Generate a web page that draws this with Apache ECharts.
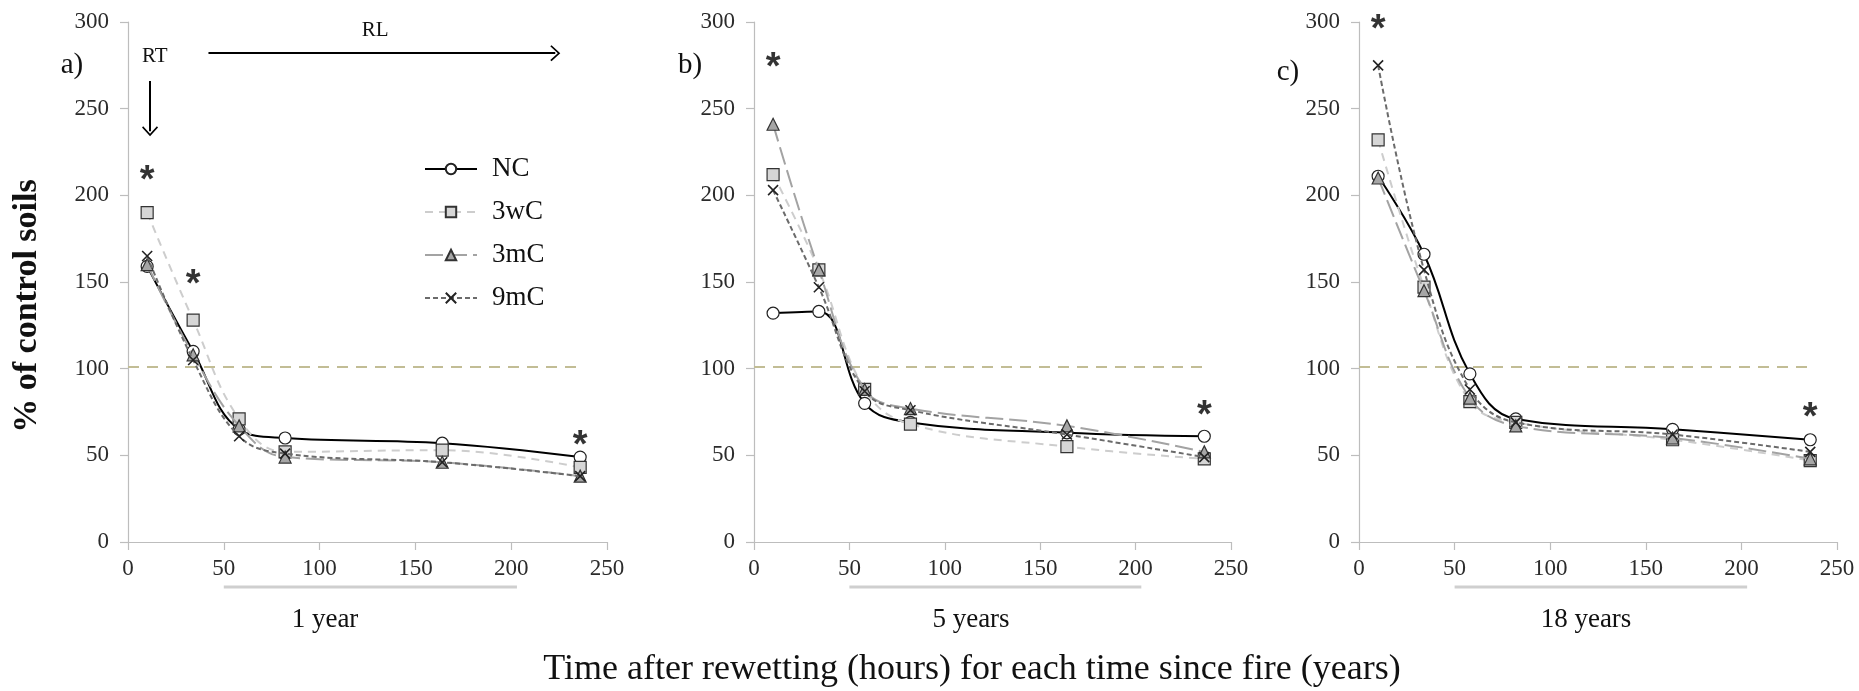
<!DOCTYPE html>
<html>
<head>
<meta charset="utf-8">
<script src="https://cdn.jsdelivr.net/npm/echarts@6/dist/echarts.min.js"></script>
<style>
  html, body { margin: 0; padding: 0; background: #fff; }
  #main { width: 1859px; height: 691px; }
</style>
</head>
<body>
<div id="main"></div>
<script>
// hours after rewetting (same sampling for every panel)
const hours = [10, 34, 58, 82, 164, 236];

// a) 1 year since fire
const ncA  = [159, 110, 65, 60, 57, 49];
const w3A  = [190, 128, 71, 52, 53, 43];
const m3A  = [160, 108, 67, 49, 46, 38];
const m9A  = [165, 105, 61, 51, 46, 38];
// b) 5 years since fire
const ncB  = [132, 133, 80, 69, 63, 61];
const w3B  = [212, 157, 88, 68, 55, 48];
const m3B  = [241, 157, 88, 77, 67, 52];
const m9B  = [203, 147, 87, 76, 62, 49];
// c) 18 years since fire
const ncC  = [211, 166, 97, 71, 65, 59];
const w3C  = [232, 147, 81, 69, 59, 47];
const m3C  = [210, 145, 83, 67, 60, 48];
const m9C  = [275, 157, 88, 69, 62, 52];

// significance asterisks [hour, height]
const starsA = [[10, 214], [34, 154], [236, 61]];
const starsB = [[10, 279], [236, 78]];
const starsC = [[10, 301], [236, 77]];

// 100 % of control reference
const refY = 101;
const refX = [0, 235];

const xTicks = [0, 250, 50];   // min, max, step
const yTicks = [0, 300, 50];
const seriesNames = ['NC', '3wC', '3mC', '9mC'];
const panelLetters = ['a)', 'b)', 'c)'];
const yearLabels = ['1 year', '5 years', '18 years'];
const lagSpan = [50, 203];     // grey bar under x axis

const serif = 'Liberation Serif';
const chart = echarts.init(document.getElementById('main'));

const grids = [
  { left: 128, top: 22, width: 479, height: 520 },
  { left: 754, top: 22, width: 477, height: 520 },
  { left: 1359, top: 22, width: 478, height: 520 }
];

const styles = {
  'NC':  { symbol: 'circle', line: { color: '#000', width: 2, type: 'solid' },
           item: { color: '#fff', borderColor: '#222', borderWidth: 1.2 } },
  '3wC': { symbol: 'rect', line: { color: '#cdcdcd', width: 2, type: [8, 6] },
           item: { color: '#d6d6d6', borderColor: '#333', borderWidth: 1.2 } },
  '3mC': { symbol: 'triangle', line: { color: '#a3a3a3', width: 2, type: [18, 6] },
           item: { color: '#a6a6a6', borderColor: '#333', borderWidth: 1.2 } },
  '9mC': { symbol: 'path://M0,0L10,10M10,0L0,10', line: { color: '#6b6b6b', width: 2, type: [5, 3] },
           item: { color: 'transparent', borderColor: '#222', borderWidth: 1.6 } }
};

const panelData = [
  [ncA, w3A, m3A, m9A],
  [ncB, w3B, m3B, m9B],
  [ncC, w3C, m3C, m9C]
];
const panelStars = [starsA, starsB, starsC];

const chevron = 'path://M0,0L10,10L8.6,11.4L0,2.8L-8.6,11.4L-10,10Z';

let series = [];
panelData.forEach(function (sets, p) {
  sets.forEach(function (vals, k) {
    const name = seriesNames[k];
    const st = styles[name];
    const s = {
      type: 'line',
      name: name,
      xAxisIndex: p,
      yAxisIndex: p,
      data: hours.map(function (h, i) { return [h, vals[i]]; }),
      smooth: 0.4,
      symbol: st.symbol,
      symbolSize: name === '9mC' ? 10 : 12,
      showAllSymbol: true,
      lineStyle: st.line,
      itemStyle: st.item,
      emphasis: { disabled: true },
      z: 3 + k
    };
    if (k === 0) {
      s.markLine = {
        silent: true,
        symbol: 'none',
        label: { show: false },
        lineStyle: { color: '#c2bd95', width: 2, type: [11, 8] },
        data: [[{ coord: [refX[0], refY] }, { coord: [refX[1], refY] }]]
      };
    }
    series.push(s);
  });
  const stars = {
    type: 'scatter',
    xAxisIndex: p,
    yAxisIndex: p,
    data: panelStars[p],
    symbolSize: 0,
    clip: false,
    silent: true,
    itemStyle: { color: 'transparent' },
    label: {
      show: true,
      position: 'inside',
      formatter: '*',
      fontFamily: 'Liberation Sans',
      fontWeight: 'bold',
      fontSize: 38,
      color: '#000',
      offset: [0, 10]
    },
    z: 10
  };
  if (p === 0) {
    // RT and RL arrows
    stars.markLine = {
      silent: true,
      symbol: ['none', chevron],
      symbolSize: [16, 10],
      label: { show: false },
      lineStyle: { color: '#000', width: 2, type: 'solid' },
      data: [
        [{ coord: [11.5, 266] }, { coord: [11.5, 237] }],
        [{ coord: [42, 282] }, { coord: [223, 282] }]
      ]
    };
  }
  series.push(stars);
});

const axisLine = { show: true, lineStyle: { color: '#bdbdbd', width: 1.2 } };
const axisTick = { show: true, length: 8, lineStyle: { color: '#bdbdbd', width: 1.2 } };
const tickLabel = { color: '#2b2b2b', fontFamily: serif, fontSize: 23 };

const option = {
  backgroundColor: '#fff',
  animation: false,
  grid: grids,
  xAxis: grids.map(function (g, i) {
    return {
      type: 'value', gridIndex: i,
      min: xTicks[0], max: xTicks[1], interval: xTicks[2],
      axisLine: axisLine, axisTick: axisTick,
      axisLabel: Object.assign({ margin: 15 }, tickLabel),
      splitLine: { show: false }
    };
  }),
  yAxis: grids.map(function (g, i) {
    return {
      type: 'value', gridIndex: i,
      min: yTicks[0], max: yTicks[1], interval: yTicks[2],
      axisLine: axisLine, axisTick: axisTick,
      axisLabel: Object.assign({ margin: 19 }, tickLabel),
      splitLine: { show: false }
    };
  }),
  legend: {
    data: seriesNames,
    orient: 'vertical',
    left: 419,
    top: 150,
    itemWidth: 52,
    itemHeight: 13,
    itemGap: 15,
    textStyle: { fontFamily: serif, fontSize: 27, color: '#111', lineHeight: 28, padding: [0, 0, 0, 10] },
    selectedMode: false
  },
  series: series
};
chart.setOption(option);

// annotations placed after the scales exist
const px = function (p, pt) { return chart.convertToPixel({ gridIndex: p }, pt); };
const txt = function (x, y, text, font, extra) {
  return Object.assign({
    type: 'text', x: x, y: y, silent: true,
    style: {
      text: text, fill: '#111', font: font,
      textAlign: 'center', textVerticalAlign: 'middle',
      align: 'center', verticalAlign: 'middle'
    }
  }, extra || {});
};
const f = function (size, bold) { return (bold ? 'bold ' : '') + size + 'px "' + serif + '"'; };

const letterPos = [[72, 65], [690, 65], [1288, 72]];
const yearX = [325, 971, 1586];
let graphics = [];
for (let p = 0; p < 3; p++) {
  graphics.push(txt(letterPos[p][0], letterPos[p][1], panelLetters[p], f(29)));
  const a = px(p, [lagSpan[0], 0]);
  const b = px(p, [lagSpan[1], 0]);
  graphics.push({
    type: 'line', silent: true,
    shape: { x1: a[0], y1: 587, x2: b[0], y2: 587 },
    style: { stroke: '#cfcfcf', lineWidth: 3 }
  });
  graphics.push(txt(yearX[p], 620, yearLabels[p], f(27)));
}
const rt = px(0, [14, 280]);
const rl = px(0, [129, 295]);
graphics.push(txt(rt[0], rt[1], 'RT', f(21)));
graphics.push(txt(rl[0], rl[1], 'RL', f(21)));
graphics.push(txt(27, 306, '% of control soils', f(34, true), { rotation: Math.PI / 2 }));
graphics.push(txt(972, 670, 'Time after rewetting (hours) for each time since fire (years)', f(36)));

chart.setOption({ graphic: graphics });
</script>
</body>
</html>
